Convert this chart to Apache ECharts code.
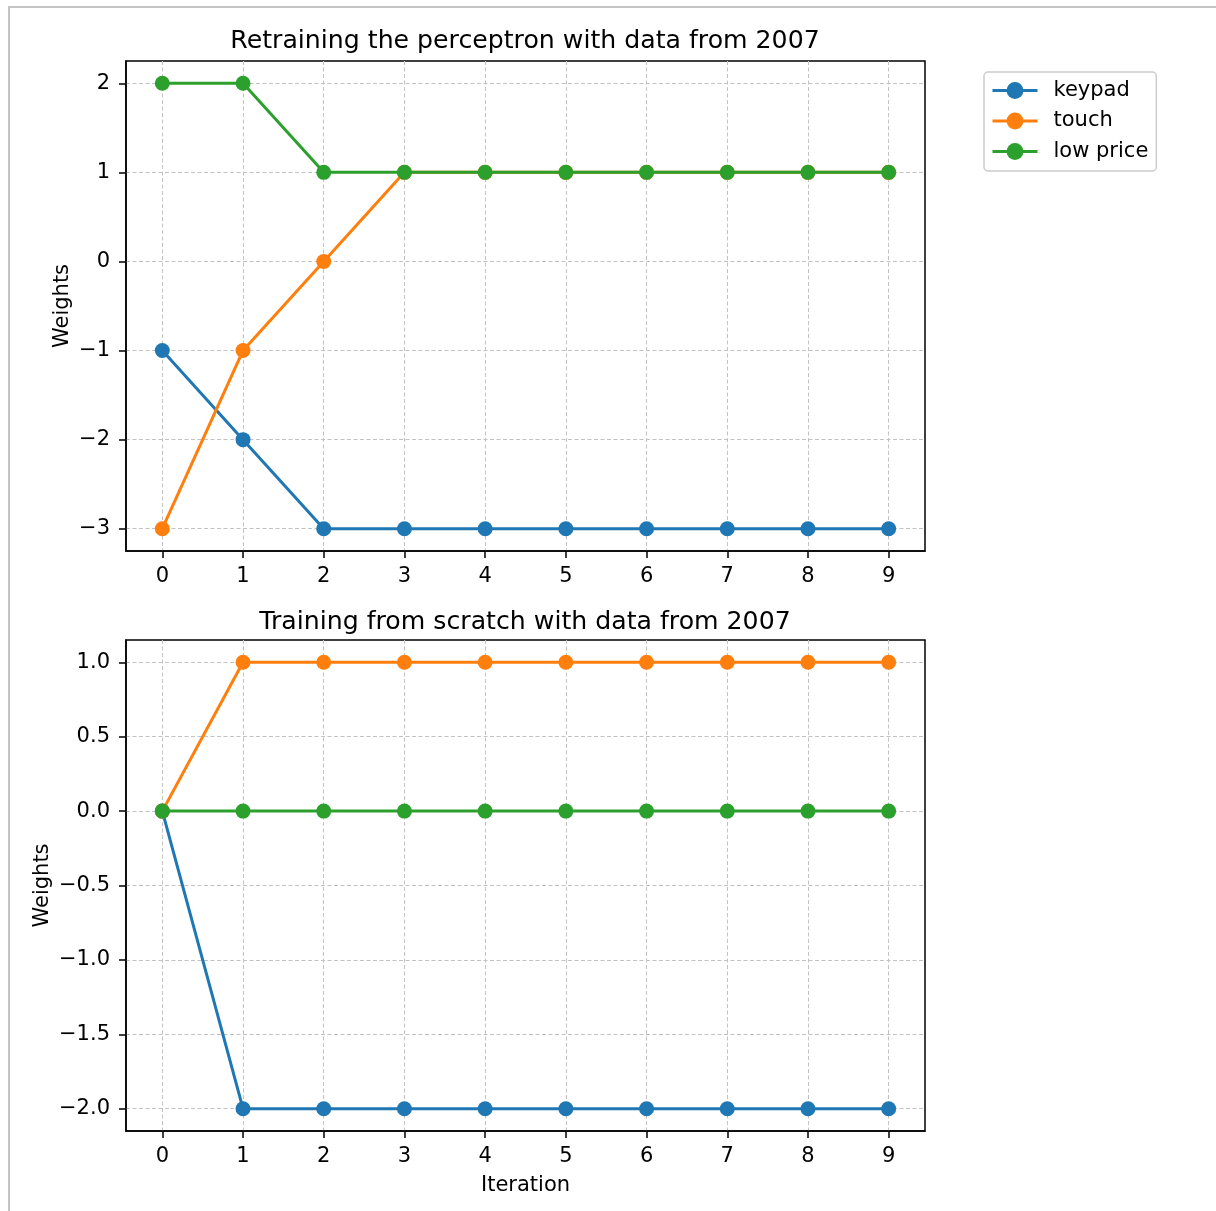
<!DOCTYPE html>
<html><head><meta charset="utf-8">
<script src="https://cdn.jsdelivr.net/npm/echarts@6/dist/echarts.min.js"></script>
<style>
html,body{margin:0;padding:0;background:#fff;}
#frame{position:absolute;left:8px;top:6px;width:1208px;height:1205px;border-left:2px solid #c4c4c4;border-top:2px solid #c4c4c4;box-sizing:border-box;}
#chart{position:absolute;left:0;top:0;width:1216px;height:1211px;}
</style></head>
<body>
<div id="frame"></div>
<div id="chart"></div>
<script>
const iterations = [0,1,2,3,4,5,6,7,8,9];
const seriesNames = ['keypad','touch','low price'];
const retrainKeypad = [-1,-2,-3,-3,-3,-3,-3,-3,-3,-3];
const retrainTouch = [-3,-1,0,1,1,1,1,1,1,1];
const retrainLowPrice = [2,2,1,1,1,1,1,1,1,1];
const scratchKeypad = [0,-2,-2,-2,-2,-2,-2,-2,-2,-2];
const scratchTouch = [0,1,1,1,1,1,1,1,1,1];
const scratchLowPrice = [0,0,0,0,0,0,0,0,0,0];
const topYTicks = [-3,-2,-1,0,1,2];
const bottomYTicks = [-2.0,-1.5,-1.0,-0.5,0.0,0.5,1.0];
const titles = ['Retraining the perceptron with data from 2007','Training from scratch with data from 2007'];
const colors = ['#1f77b4','#ff7f0e','#2ca02c'];

const FONT = 'DejaVu Sans';
const FS = 21;
const TFS = 25.2;
const fmt = d => v => (v < 0 ? '\u2212' : '') + Math.abs(v).toFixed(d);
const pairs = arr => iterations.map((x,i)=>[x, arr[i]]);
const gridLine = {show:true,lineStyle:{color:'#c2c2c2',width:1,type:[4,2.5]}};

function xAxis(gi, name){
  return {
    type:'value', gridIndex:gi, min:-0.45, max:9.45,
    name: name || '', nameLocation:'middle', nameGap:44, nameMoveOverlap:false,
    nameTextStyle:{fontFamily:FONT,fontSize:FS,color:'#000'},
    axisLine:{show:true,onZero:false,lineStyle:{color:'#000',width:1.5}},
    axisTick:{show:true,customValues:iterations,length:7,lineStyle:{color:'#000',width:1.5}},
    axisLabel:{customValues:iterations,margin:15,fontFamily:FONT,fontSize:FS,color:'#000'},
    splitLine:gridLine
  };
}
function yAxis(gi, min, max, ticks, dec, gap){
  return {
    type:'value', gridIndex:gi, min:min, max:max,
    name:'Weights', nameLocation:'middle', nameGap:gap, nameRotate:90, nameMoveOverlap:false,
    nameTextStyle:{fontFamily:FONT,fontSize:FS,color:'#000'},
    axisLine:{show:true,onZero:false,lineStyle:{color:'#000',width:1.5}},
    axisTick:{show:true,customValues:ticks,length:7,lineStyle:{color:'#000',width:1.5}},
    axisLabel:{customValues:ticks,margin:16,fontFamily:FONT,fontSize:FS,color:'#000',formatter:fmt(dec)},
    splitLine:gridLine
  };
}
function line(name, data, gi, ci){
  return {
    name:name, type:'line', xAxisIndex:gi, yAxisIndex:gi, data:pairs(data),
    symbol:'circle', symbolSize:15, showSymbol:true,
    lineStyle:{color:colors[ci],width:3},
    itemStyle:{color:colors[ci]},
    emphasis:{disabled:true}, animation:false, z:2+ci
  };
}

const chart = echarts.init(document.getElementById('chart'), null, {renderer:'canvas'});
chart.setOption({
  animation:false,
  color:colors,
  title:[
    {text:titles[0],left:525,top:29,padding:0,textAlign:'center',textStyle:{fontFamily:FONT,fontSize:TFS,fontWeight:'normal',color:'#000'}},
    {text:titles[1],left:525,top:610,padding:0,textAlign:'center',textStyle:{fontFamily:FONT,fontSize:TFS,fontWeight:'normal',color:'#000'}}
  ],
  legend:{
    data:seriesNames, orient:'vertical', left:984, top:72,
    backgroundColor:'#fff', borderColor:'#cccccc', borderWidth:1.5, borderRadius:4,
    padding:[8,8,9,7], itemWidth:45, itemHeight:21, itemGap:9.5,
    lineStyle:{width:3},
    textStyle:{fontFamily:FONT,fontSize:FS,color:'#000',padding:[0,0,0,11]}
  },
  grid:[
    {left:126,top:61,width:799,height:490,show:true,borderColor:'#000',borderWidth:1.5,backgroundColor:'transparent'},
    {left:126,top:640,width:799,height:491,show:true,borderColor:'#000',borderWidth:1.5,backgroundColor:'transparent'}
  ],
  xAxis:[xAxis(0), xAxis(1,'Iteration')],
  yAxis:[yAxis(0,-3.25,2.25,topYTicks,0,53), yAxis(1,-2.15,1.15,bottomYTicks,1,73)],
  series:[
    line(seriesNames[0],retrainKeypad,0,0),
    line(seriesNames[1],retrainTouch,0,1),
    line(seriesNames[2],retrainLowPrice,0,2),
    line(seriesNames[0],scratchKeypad,1,0),
    line(seriesNames[1],scratchTouch,1,1),
    line(seriesNames[2],scratchLowPrice,1,2)
  ]
});
</script>
</body></html>
